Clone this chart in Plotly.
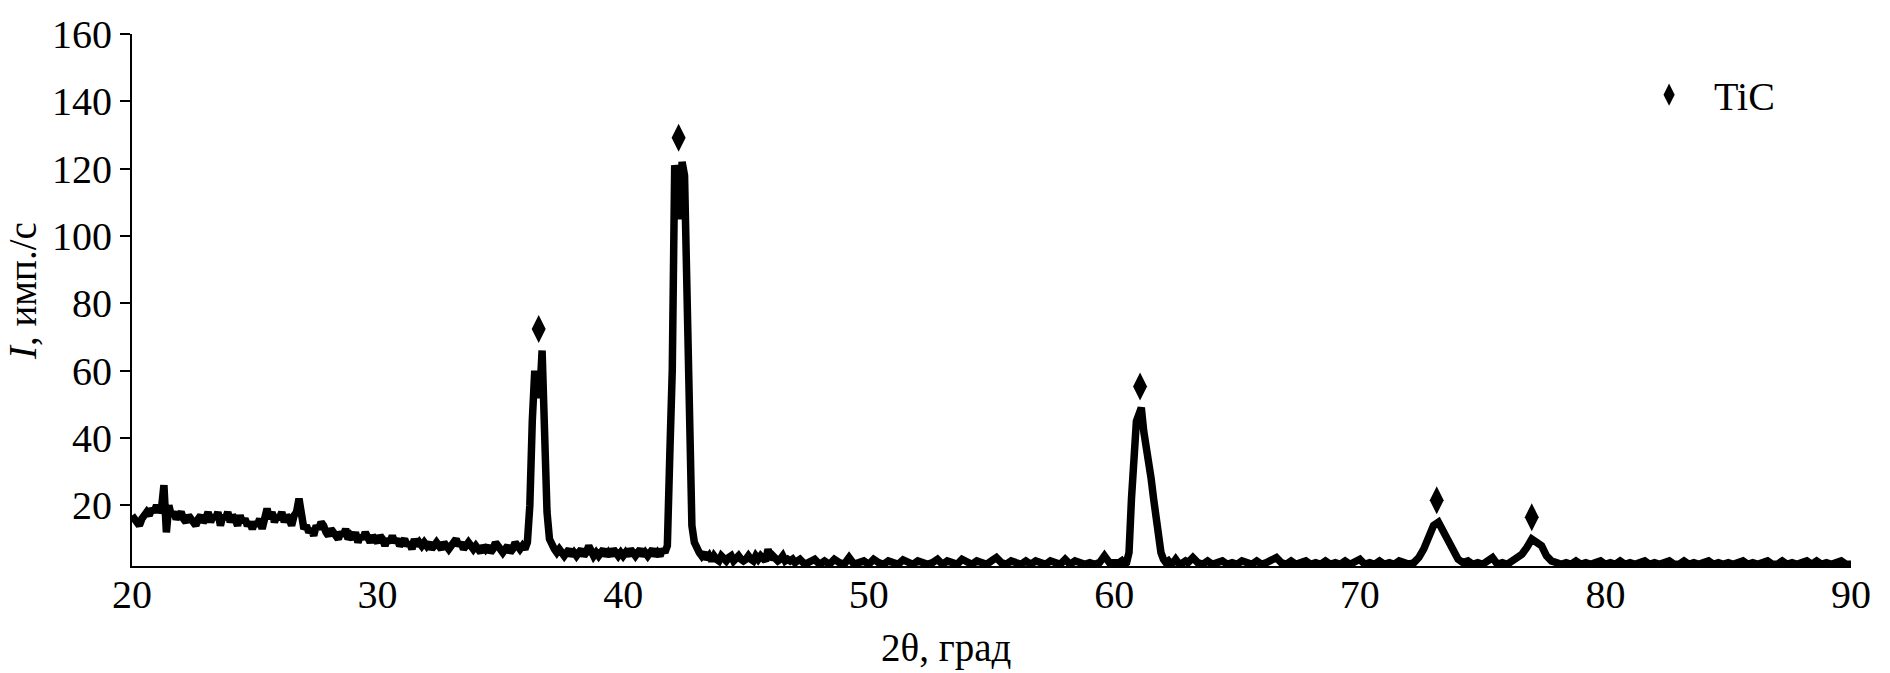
import numpy as np
import plotly.graph_objects as go

# ---- data ----
# segment A: 20.0 .. 46.9, step 0.1
seg_a_start, seg_a_step = 20.0, 0.1
seg_a = [
    17, 16, 15, 14, 16, 17, 18, 17, 19, 18,
    20, 18, 19, 26, 12, 20, 17, 18, 16, 17,
    18, 16, 15, 17, 16, 15, 14, 16, 17, 15,
    16, 18, 15, 17, 16, 18, 14, 17, 16, 18,
    15, 17, 16, 14, 17, 15, 16, 14, 15, 13,
    15, 14, 16, 13, 17, 19, 16, 18, 15, 17,
    16, 18, 15, 17, 16, 14, 17, 18, 22, 17,
    13, 14, 12, 13, 11, 14, 13, 15, 14, 12,
    11, 13, 12, 11, 10, 12, 11, 13, 10, 11,
    10, 12, 9, 11, 10, 12, 10, 9, 11, 10,
    9, 11, 10, 8, 10, 9, 11, 9, 10, 8,
    9, 10, 8, 9, 7, 10, 8, 9, 8, 9,
    8, 9, 7, 8, 9, 8, 7, 9, 8, 7,
    8, 9, 10, 8, 9, 7, 8, 9, 8, 7,
    8, 7, 6, 8, 7, 8, 6, 7, 9, 8,
    7, 6, 7, 8, 6, 7, 9, 8, 7, 8,
    7, 9, 20, 45, 60, 55, 52, 66, 38, 18,
    10, 8, 7, 6, 7, 6, 5, 6, 7, 5,
    6, 5, 6, 7, 5, 6, 8, 6, 5, 6,
    5, 6, 7, 5, 6, 5, 7, 6, 5, 6,
    5, 6, 5, 7, 6, 5, 6, 7, 5, 6,
    5, 6, 7, 5, 6, 5, 7, 6, 8, 35,
    60, 121, 118, 105, 122, 118, 75, 35, 14, 9,
    7, 6, 5, 6, 4, 5, 3.5, 5, 4, 3.5,
    5, 4, 3.5, 4.5, 5, 3.5, 4, 5, 4, 3.5,
    4, 5, 4, 3.5, 5, 4, 5, 4, 3.5, 7,
    4, 5, 4, 3.5, 4, 5, 3.5, 4, 3.5, 4,
]
# segment B: 47.0 .. 59.8, step 0.2
seg_b_start, seg_b_step = 47.0, 0.2
seg_b = [
    3, 4, 2.5, 3, 4, 2.5, 3.5, 2.5, 4, 3,
    2.5, 4.5, 2.5, 3, 3.5, 2.5, 4, 3, 2.5, 3.5,
    3, 2.5, 3.8, 3, 2.5, 3.5, 3, 2.5, 3, 4,
    2.5, 3.5, 3, 2.5, 4, 3, 2.5, 3.5, 3, 2.5,
    3.5, 4.5, 3, 2.5, 3.5, 3, 2.5, 3.5, 2.5, 3.5,
    3, 2.5, 3.5, 3, 2.5, 4, 2.5, 3.5, 3, 2.5,
    3, 2.5, 3, 5, 3,
]
# segment C: 60.0 .. 62.9, step 0.1
seg_c_start, seg_c_step = 60.0, 0.1
seg_c = [
    3, 2.5, 3, 3.5, 2.5, 3, 6, 22, 38, 45,
    47, 49, 42, 38, 33, 28, 22, 15, 10, 6,
    4, 3, 3.5, 2.5, 3, 4, 3, 2.5, 3, 3.5,
]
# segment D: 63.0 .. 90.0, step 0.2
seg_d_start, seg_d_step = 63.0, 0.2
seg_d = [
    3, 4.5, 3, 2.5, 3.5, 2.5, 3, 3.5, 2.5, 3,
    2.5, 3.5, 3, 2.5, 3.5, 2.5, 3, 3.5, 4.5, 3,
    2.5, 3.5, 2.5, 3, 3.5, 2.5, 3, 2.5, 3.5, 2.5,
    3, 2.5, 3.5, 2.5, 3, 4, 2.5, 3, 2.5, 3.5,
    2.5, 3, 2.5, 3.5, 3, 2.5, 3, 4.5, 7, 11,
    14, 15, 12, 9, 6, 4, 3, 3.5, 2.5, 3,
    2.5, 3.5, 4.5, 2.5, 3, 2.5, 3.5, 4.5, 5.5, 7.5,
    10, 9, 8, 5, 3.5, 3, 2.5, 3, 2.5, 3.5,
    2.5, 3, 2.5, 3, 3.5, 2.5, 3, 2.5, 3.5, 2.5,
    3, 2.5, 3, 3.5, 2.5, 3, 2.5, 3, 3.5, 2.5,
    2.5, 3.5, 2.5, 3, 2.5, 3, 3.5, 2.5, 3, 2.5,
    3, 2.5, 3, 3.5, 2.5, 3, 2.5, 3, 3.5, 2.5,
    2.5, 3.5, 2.5, 3, 2.5, 3, 3.5, 2.5, 3.5, 2.5,
    3, 2.5, 3, 3.5, 2.5, 2.5,
]

# TiC peak markers
tic_x = [36.56, 42.26, 61.05, 73.13, 77.0]
tic_y = [72.4, 129.2, 55.3, 21.5, 16.5]

y_ticks = [20, 40, 60, 80, 100, 120, 140, 160]
x_ticks = [20, 30, 40, 50, 60, 70, 80, 90]

# ---- build series ----
two_theta, intensity = [], []
for start, step, vals in [(seg_a_start, seg_a_step, seg_a),
                          (seg_b_start, seg_b_step, seg_b),
                          (seg_c_start, seg_c_step, seg_c),
                          (seg_d_start, seg_d_step, seg_d)]:
    for i, v in enumerate(vals):
        two_theta.append(round(start + i * step, 3))
        intensity.append(v)

FONT = "Liberation Serif, Times New Roman, serif"

fig = go.Figure()
fig.add_trace(go.Scatter(
    x=two_theta, y=intensity, mode="lines",
    line=dict(color="black", width=7.5),
    showlegend=False, hoverinfo="skip",
))
fig.add_trace(go.Scatter(
    x=tic_x, y=tic_y, mode="markers", name="TiC",
    marker=dict(symbol="diamond-tall", size=20, color="black"),
    showlegend=True,
))

fig.update_layout(
    width=1890, height=673,
    margin=dict(l=132, r=39, t=32, b=107),
    paper_bgcolor="white", plot_bgcolor="white",
    font=dict(family=FONT, size=40, color="black"),
    legend=dict(x=0.868, y=0.886, xanchor="left", yanchor="middle",
                font=dict(family=FONT, size=40, color="black"),
                bgcolor="rgba(0,0,0,0)", itemwidth=80),
    annotations=[
        dict(text="2θ, град", xref="paper", yref="paper",
             x=(946 - 132) / 1719, y=-0.155, xanchor="center", yanchor="middle",
             showarrow=False, font=dict(family=FONT, size=39)),
        dict(text="<i>I</i>, имп./с", xref="paper", yref="paper",
             x=(22 - 132) / 1719, y=(566 - 290) / 534, xanchor="center", yanchor="middle",
             textangle=-90, showarrow=False, font=dict(family=FONT, size=39)),
    ],
)
fig.update_xaxes(
    range=[20, 90], tickvals=x_ticks, showgrid=False, zeroline=False,
    showline=True, linecolor="black", linewidth=2, ticks="",
    tickfont=dict(family=FONT, size=40), ticklabelstandoff=-8,
)
fig.update_yaxes(
    range=[2, 160], tickvals=y_ticks, showgrid=False, zeroline=False,
    showline=True, linecolor="black", linewidth=2, ticks="outside",
    ticklen=10, tickwidth=2, tickcolor="black",
    tickfont=dict(family=FONT, size=40),
)

fig.write_html(
    "out.html",
    config={"displayModeBar": False},
    post_script="document.body.style.margin='0';document.body.style.overflow='hidden';",
)
